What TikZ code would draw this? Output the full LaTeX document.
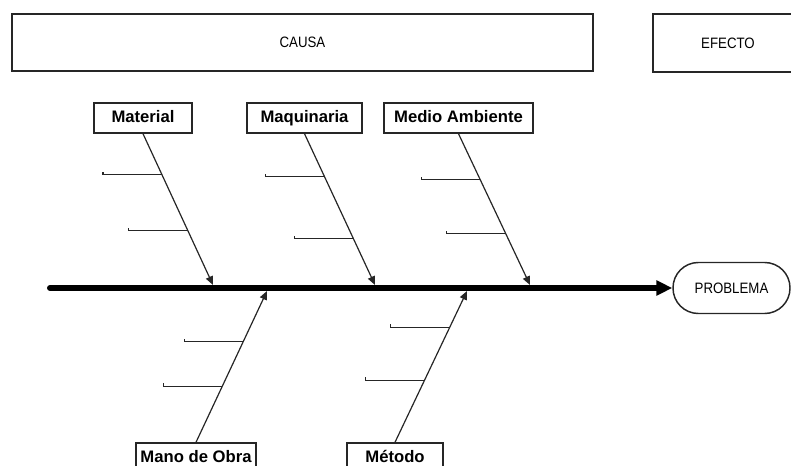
\documentclass[tikz,border=0pt]{standalone}
\usepackage{fontspec}
\setmainfont{Liberation Sans}
\usetikzlibrary{calc,arrows.meta}

\tikzset{
  header/.style={draw=black!85, line width=1.1pt, inner sep=0pt,
                 text height=8pt, text depth=0pt,
                 font=\fontsize{11.3pt}{13pt}\selectfont},
  cause/.style={draw=black!85, line width=1.1pt, inner sep=0pt,
                text height=9.5pt, text depth=2.5pt,
                minimum height=22.5pt, font=\fontsize{12.5pt}{14pt}\selectfont\bfseries},
  spine/.style={line width=4.5pt, line cap=round,
                -{Triangle[length=12pt,width=11pt]}},
  bone/.style={draw=black!85, line width=0.9pt,
               -{Triangle[length=6.5pt,width=5.5pt]}},
  ribline/.style={draw=black!85, line width=0.9pt}
}
% narrow capitals used in the header and effect boxes
\newcommand{\narrowcaps}[1]{\scalebox{0.88}[1]{#1}}
% a rib hanging off a bone: start node, tip, position along the bone
\newcommand{\ribat}[3]{%
  \draw[ribline] ($(#1)!#3!(#2)$) -- ++(-59,0) -- ++(0,-3);}

\begin{document}
\begin{tikzpicture}[x=0.75pt, y=-0.75pt]
  \clip (0,0) rectangle (791,466);
  \useasboundingbox (0,0) rectangle (791,466);

  % header boxes
  \node[header, minimum width=435.75pt, minimum height=42.75pt] (causa) at (302.5,42.5) {\narrowcaps{CAUSA}};
  \node[header, minimum width=112.5pt, minimum height=43.5pt] (efecto) at (728,43) {\narrowcaps{EFECTO}};

  % effect head
  \node[header, minimum width=87.75pt, minimum height=38.25pt, rounded corners=19pt] (problema) at (731.5,288) {\narrowcaps{PROBLEMA}};

  % cause categories
  \node[cause, minimum width=73.5pt]   (material) at (143,118)   {Material};
  \node[cause, minimum width=86.25pt]  (maquinaria) at (304.5,118) {Maquinaria};
  \node[cause, minimum width=111.75pt] (medio) at (458.5,118)    {Medio Ambiente};
  \node[cause, minimum width=90pt]     (mano) at (196,458)       {Mano de Obra};
  \node[cause, minimum width=72pt]     (metodo) at (395,458)     {Método};

  % spine
  \coordinate (tail) at (50,288);
  \draw[spine] (tail) -- (problema.west);

  % bone tips on the spine
  \coordinate (materialTip)   at (213,285);
  \coordinate (maquinariaTip) at (375,285);
  \coordinate (medioTip)      at (530,285);
  \coordinate (manoTip)       at (267,291);
  \coordinate (metodoTip)     at (467,291);

  % bones
  \draw[bone] (material.south)   -- (materialTip);
  \draw[bone] (maquinaria.south) -- (maquinariaTip);
  \draw[bone] (medio.south)      -- (medioTip);
  \draw[bone] (mano.north)       -- (manoTip);
  \draw[bone] (metodo.north)     -- (metodoTip);

  % ribs
  \ribat{material.south}{materialTip}{0.27}
  \ribat{material.south}{materialTip}{0.64}
  \ribat{maquinaria.south}{maquinariaTip}{0.285}
  \ribat{maquinaria.south}{maquinariaTip}{0.695}
  \ribat{medio.south}{medioTip}{0.305}
  \ribat{medio.south}{medioTip}{0.66}
  \ribat{mano.north}{manoTip}{0.37}
  \ribat{mano.north}{manoTip}{0.665}
  \ribat{metodo.north}{metodoTip}{0.41}
  \ribat{metodo.north}{metodoTip}{0.76}
\end{tikzpicture}
\end{document}
